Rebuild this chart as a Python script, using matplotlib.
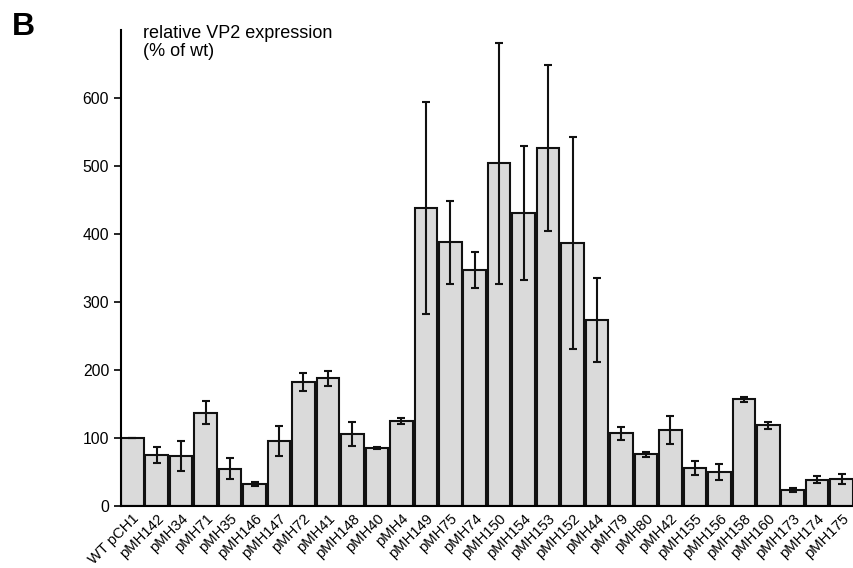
import matplotlib.pyplot as plt

plt.rcParams['font.family'] = ['Liberation Sans', 'DejaVu Sans']

names = ['WT pCH1', 'pMH142', 'pMH34', 'pMH71', 'pMH35', 'pMH146', 'pMH147',
         'pMH72', 'pMH41', 'pMH148', 'pMH40', 'pMH4', 'pMH149', 'pMH75',
         'pMH74', 'pMH150', 'pMH154', 'pMH153', 'pMH152', 'pMH44', 'pMH79',
         'pMH80', 'pMH42', 'pMH155', 'pMH156', 'pMH158', 'pMH160', 'pMH173',
         'pMH174', 'pMH175']
expr = [100, 75, 74, 137, 55, 33, 96, 182, 188, 106, 86, 125, 438, 388,
        347, 504, 431, 526, 387, 274, 107, 76, 112, 56, 50, 157, 119, 24,
        39, 40]
err = [0, 12, 22, 17, 15, 3, 22, 13, 11, 17, 1.5, 4, 156, 61,
       27, 177, 99, 122, 156, 62, 10, 4, 20, 11, 12, 4, 5, 3,
       5, 7]

fig = plt.figure(figsize=(8.54, 5.68), dpi=100)
ax = fig.add_axes([0.1417, 0.109, 0.857, 0.838])

x = list(range(len(names)))
ax.bar(x, expr, width=0.92, color='#dadada', edgecolor='#111111', linewidth=1.5)
ax.errorbar(x, expr, yerr=err, fmt='none', ecolor='#111111', elinewidth=1.5,
            capsize=3, capthick=1.5)

ax.set_xlim(-0.46, len(names) - 0.54)
ax.set_ylim(0, 700)
ax.set_yticks([0, 100, 200, 300, 400, 500, 600])
ax.tick_params(axis='y', labelsize=11.3, length=5, width=1.2, direction='out')
ax.tick_params(axis='x', length=0, pad=4)
ax.set_xticks(x)
ax.set_xticklabels(names, rotation=45, ha='right', rotation_mode='anchor',
                   fontsize=10.6)

for s in ['top', 'right']:
    ax.spines[s].set_visible(False)
ax.spines['left'].set_linewidth(1.5)
ax.spines['bottom'].set_linewidth(1.5)

fig.text(143 / 854, 1 - 24.5 / 568, 'relative VP2 expression\n(% of wt)',
         fontsize=13, va='top', ha='left', linespacing=1.15)
fig.text(12 / 854, 1 - 35 / 568, 'B', fontsize=23, fontweight='bold',
         va='baseline', ha='left')

fig.savefig('out.png', dpi=100)
